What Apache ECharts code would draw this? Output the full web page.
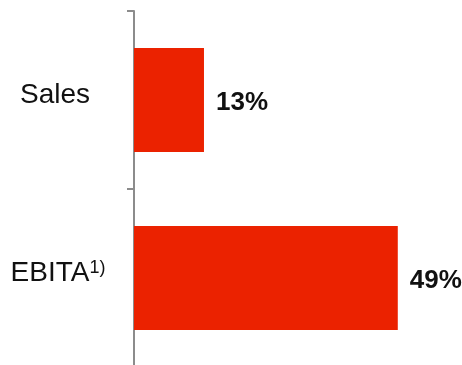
<!DOCTYPE html>
<html>
<head>
<meta charset="utf-8">
<script src="https://cdn.jsdelivr.net/npm/echarts@6/dist/echarts.min.js"></script>
<style>
  html, body { margin: 0; padding: 0; background: #fff; }
  #chart { width: 462px; height: 365px; }
</style>
</head>
<body>
<div id="chart"></div>
<script>
// Growth figures shown as horizontal bars
const categories = ['Sales', 'EBITA'];
const footnotes = ['', '1)'];
const growthPct = [13, 49];

const chart = echarts.init(document.getElementById('chart'), null, { renderer: 'canvas' });

const labelFont = 'Liberation Sans, Arial, sans-serif';

chart.setOption({
  animation: false,
  backgroundColor: '#ffffff',
  // plot area runs slightly past the bottom edge so the last band boundary is clipped
  grid: { left: 134, width: 323, top: 11, height: 356, containLabel: false, outerBoundsMode: 'none' },
  xAxis: {
    type: 'value',
    min: 0,
    max: 60,
    show: false
  },
  yAxis: {
    type: 'category',
    inverse: true,
    data: categories,
    axisLine: { show: true, lineStyle: { color: '#8c8c8c', width: 2 } },
    axisTick: { show: true, length: 7, alignWithLabel: false, lineStyle: { color: '#8c8c8c', width: 2 } },
    axisLabel: {
      margin: 76,
      align: 'center',
      formatter: function (value, idx) {
        const note = footnotes[idx];
        return note ? '{main|' + value + '}{sup|' + note + '}' : '{plain|' + value + '}';
      },
      rich: {
        plain: {
          fontFamily: labelFont,
          fontSize: 28,
          color: '#111111',
          padding: [0, 6, 10, 0]
        },
        main: {
          fontFamily: labelFont,
          fontSize: 28,
          color: '#111111',
          padding: [0, 0, 10, 0]
        },
        sup: {
          fontFamily: labelFont,
          fontSize: 18,
          color: '#111111',
          verticalAlign: 'top',
          padding: [0, 0, 18, 0]
        }
      }
    }
  },
  series: [{
    type: 'bar',
    data: growthPct,
    barWidth: 104,
    itemStyle: { color: '#EB2200' },
    label: {
      show: true,
      position: 'right',
      distance: 12,
      offset: [0, 3],
      formatter: '{c}%',
      fontFamily: labelFont,
      fontWeight: 'bold',
      fontSize: 26,
      color: '#111111'
    }
  }]
});
</script>
</body>
</html>
